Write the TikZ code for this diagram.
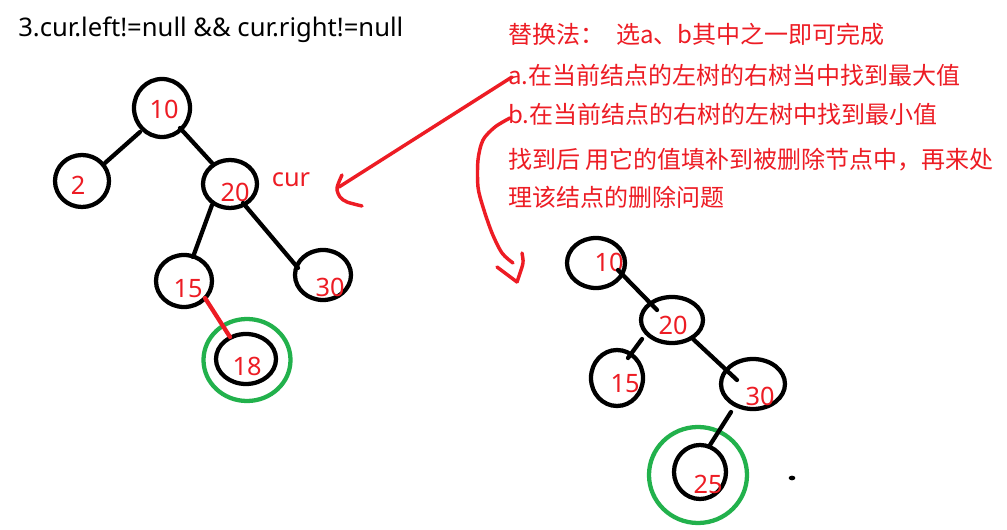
\documentclass[tikz,border=0pt]{standalone}
\usepackage{fontspec}
\usetikzlibrary{shapes.geometric,calc}
\newfontfamily\cjk{Noto Sans CJK SC}
\newfontfamily\latn{Noto Sans}
\definecolor{pred}{RGB}{237,28,36}
\definecolor{pgreen}{RGB}{34,177,76}
\tikzset{
  ell/.style={draw=black, line width=3.2pt, ellipse, inner sep=0pt, outer sep=0pt},
  gring/.style={draw=pgreen, line width=3.2pt, ellipse, inner sep=0pt, outer sep=0pt},
  num/.style={text=pred, inner sep=0pt, font=\latn\fontsize{19pt}{20pt}\selectfont},
  note/.style={text=pred, inner sep=0pt, anchor=base west, font=\cjk\fontsize{18pt}{20pt}\selectfont},
  edge/.style={draw=black, line width=3.2pt, line cap=round},
  redline/.style={draw=pred, line width=2.6pt, line cap=round, line join=round},
}
\begin{document}
\begin{tikzpicture}[x=0.75pt,y=-0.75pt]
\useasboundingbox (0,0) rectangle (1007,530);
\fill[white] (0,0) rectangle (1007,530);

% title
\node[anchor=base west, inner sep=0pt, font=\latn\fontsize{19.2pt}{21pt}\selectfont] (title) at (18,37) {3.cur.left!=null \&\& cur.right!=null};

% notes
\node[note] (n1) at (508,44) {替换法：\hspace{9pt}选a、b其中之一即可完成};
\node[note] (n2) at (508,85) {a.在当前结点的左树的右树当中找到最大值};
\node[note] (n3) at (508,124) {b.在当前结点的右树的左树中找到最小值};
\node[note] (n4) at (508,169) {找到后 用它的值填补到被删除节点中，再来处};
\node[note] (n5) at (508,207) {理该结点的删除问题};

% left tree
\node[ell, minimum width=42pt, minimum height=43.5pt] (l10) at (162,108) {};
\node[ell, minimum width=40.5pt, minimum height=39pt] (l2) at (82,181) {};
\node[ell, minimum width=40.5pt, minimum height=36pt] (l20) at (230,184) {};
\node[ell, minimum width=42pt, minimum height=39pt] (l15) at (184,281) {};
\node[ell, minimum width=42pt, minimum height=37.5pt] (l30) at (323,275) {};
\node[ell, minimum width=45pt, minimum height=37.5pt] (l18) at (246,359) {};
\node[gring, minimum width=65.25pt, minimum height=61.5pt] (lg) at (247,360) {};

\node[num] (t10) at (164,109) {10};
\node[num] (t2) at (78,185) {2};
\node[num] (t20) at (235,192) {20};
\node[num] (t15) at (188,289) {15};
\node[num] (t30) at (330,287) {30};
\node[num] (t18) at (247,366) {18};
\node[num] (cur) at (291,180) {cur};

\draw[edge] ($(l10)+(-22,24)$) -- ($(l2)+(23,-18)$);
\draw[edge] ($(l10)+(18,20)$) -- ($(l20)+(-18,-21)$);
\draw[edge] ($(l20)+(-18,21)$) -- ($(l15)+(9,-24)$);
\draw[edge] ($(l20)+(13,19)$) -- ($(l30)+(-25,-7)$);
\draw[edge, draw=pred] ($(l15)+(21,17)$) -- ($(l18)+(-16,-22)$);

% right tree
\node[ell, minimum width=43.5pt, minimum height=37.5pt] (r10) at (596,263) {};
\node[ell, minimum width=46.5pt, minimum height=34.5pt] (r20) at (672,320) {};
\node[ell, minimum width=39pt, minimum height=42pt] (r15) at (617,378) {};
\node[ell, minimum width=48pt, minimum height=37.5pt] (r30) at (753,384) {};
\node[ell, minimum width=39pt, minimum height=40.5pt] (r25) at (700,472) {};
\node[gring, minimum width=73.5pt, minimum height=72pt] (rg) at (698,475) {};

\node[num] (s10) at (609,262) {10};
\node[num] (s20) at (673,325) {20};
\node[num] (s15) at (625,384) {15};
\node[num] (s30) at (760,396) {30};
\node[num] (s25) at (708,484) {25};

\draw[edge] ($(r10)+(22,7)$) -- ($(r20)+(-15,-10)$);
\draw[edge] ($(r20)+(-30,19)$) -- ($(r15)+(11,-20)$);
\draw[edge] ($(r20)+(21,19)$) -- ($(r30)+(-16,-4)$);
\draw[edge] ($(r30)+(-22,28)$) -- ($(r25)+(10,-27)$);

\node[fill=black, ellipse, inner sep=0pt, minimum width=5pt, minimum height=3.5pt] (dot) at (792,478) {};

% freehand arrow 1
\coordinate (a1s) at (512,77);
\coordinate (a1t) at (339,187);
\draw[redline] (a1s) -- (a1t);
\draw[redline] plot[smooth] coordinates {(342,175) (337,188) (340,197) (347,202) (362,206)};

% freehand arrow 2
\coordinate (a2s) at (510,118);
\coordinate (a2t) at (517,282);
\draw[redline] plot[smooth] coordinates {(a2s) (495,127) (483,140) (478,160) (478,187) (483,207) (492,233) (502,253) (513,263)};
\draw[redline] plot[smooth] coordinates {(497,267) (505,273) (a2t)};
\draw[redline] plot[smooth] coordinates {(522,253) (523,263) (519,276) (a2t)};
\end{tikzpicture}
\end{document}
